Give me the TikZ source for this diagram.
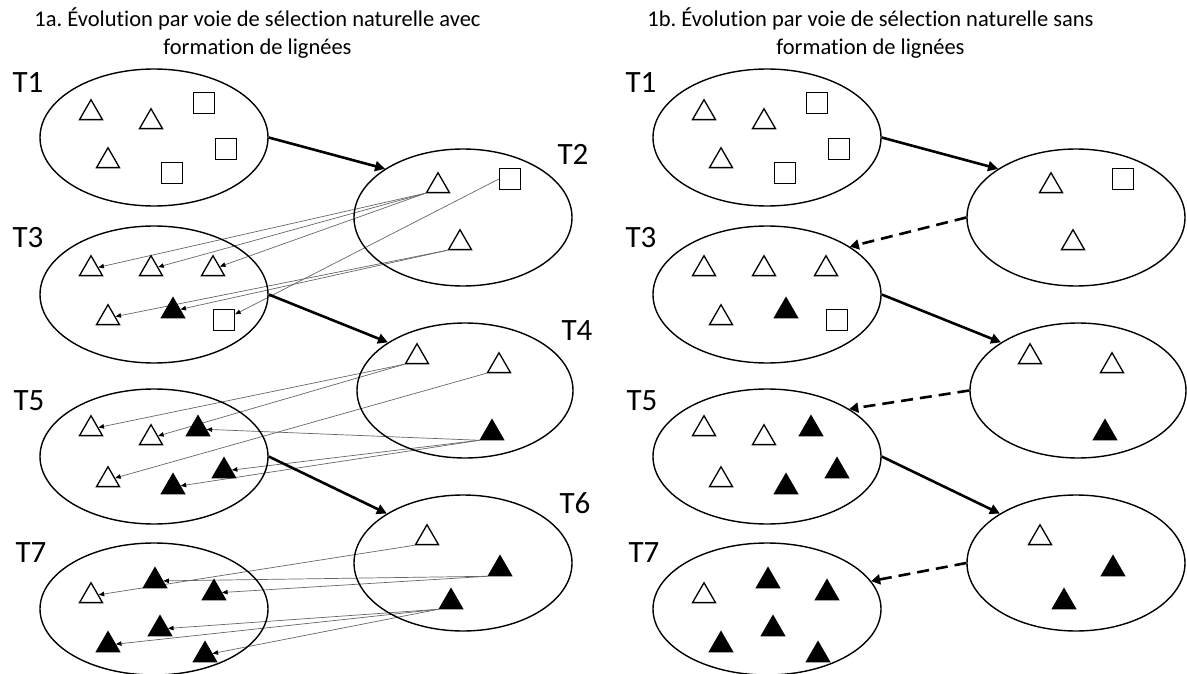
\documentclass[tikz,border=0pt]{standalone}
\usepackage{fontspec}
\setmainfont{Carlito}[Ligatures=NoCommon]
\frenchspacing
\usetikzlibrary{shapes.geometric,arrows.meta}
\pgfdeclarelayer{background}
\pgfsetlayers{background,main}

\tikzset{
  pop/.style={ellipse, draw, line width=1.4pt, inner sep=0pt},
  otri/.style={regular polygon, regular polygon sides=3, minimum size=26.5pt,
               inner sep=0pt, draw, line width=1.3pt, fill=white},
  ftri/.style={otri, fill=black},
  osq/.style={draw, line width=1.3pt, minimum size=21pt, inner sep=0pt, fill=white},
  tlabel/.style={font=\fontsize{31}{31}\selectfont, inner sep=0pt},
  headline/.style={font=\fontsize{22.5}{27}\selectfont, inner sep=0pt, anchor=base},
  growth/.style={line width=2.6pt, -{Triangle[length=10pt,width=10pt]}},
  backflow/.style={line width=2.6pt, dash pattern=on 12pt off 7pt,
                   -{Triangle[length=9pt,width=10pt]}},
  lineage/.style={draw=black!60, line width=0.7pt,
                  -{Triangle[length=5.5pt,width=4.5pt,color=black]}},
}

% Seven populations (T1..T7) of one panel; #1 = name prefix, #2 = horizontal offset
\newcommand{\populations}[2]{%
  \begin{scope}[xshift=#2]
    % populations
    \node[pop, minimum width=228pt, minimum height=137pt] (#1T1) at (154,137.5) {};
    \node[pop, minimum width=218pt, minimum height=137pt] (#1T2) at (463,217.5) {};
    \node[pop, minimum width=228pt, minimum height=137pt] (#1T3) at (154,294.5) {};
    \node[pop, minimum width=216pt, minimum height=135pt] (#1T4) at (465,390.5) {};
    \node[pop, minimum width=228pt, minimum height=135pt] (#1T5) at (154,456.5) {};
    \node[pop, minimum width=218pt, minimum height=136pt] (#1T6) at (463,563) {};
    \node[pop, minimum width=228pt, minimum height=132pt] (#1T7) at (154,609) {};
    % T1
    \node[otri] (#1k1a) at (91,113) {};
    \node[otri] (#1k1b) at (151,122) {};
    \node[otri] (#1k1c) at (108,161) {};
    \node[osq]  (#1k1d) at (204,103) {};
    \node[osq]  (#1k1e) at (226,149) {};
    \node[osq]  (#1k1f) at (172,173) {};
    % T2
    \node[otri] (#1k2a) at (438,186) {};
    \node[osq]  (#1k2b) at (510,179) {};
    \node[otri] (#1k2c) at (460,243) {};
    % T3
    \node[otri] (#1k3a) at (91,269) {};
    \node[otri] (#1k3b) at (151,269) {};
    \node[otri] (#1k3c) at (213,269) {};
    \node[otri] (#1k3d) at (108,318) {};
    \node[ftri] (#1k3e) at (173,311) {};
    \node[osq]  (#1k3f) at (224,320) {};
    % T4
    \node[otri] (#1k4a) at (417,357) {};
    \node[otri] (#1k4b) at (499,366) {};
    \node[ftri] (#1k4c) at (492,433) {};
    % T5
    \node[otri] (#1k5a) at (91,429) {};
    \node[otri] (#1k5b) at (151,438) {};
    \node[ftri] (#1k5c) at (198,429) {};
    \node[otri] (#1k5d) at (108,480) {};
    \node[ftri] (#1k5e) at (224,471) {};
    \node[ftri] (#1k5f) at (173,487) {};
    % T6
    \node[otri] (#1k6a) at (427,538) {};
    \node[ftri] (#1k6b) at (500,569) {};
    \node[ftri] (#1k6c) at (451,602) {};
    % T7
    \node[otri] (#1k7a) at (91,596) {};
    \node[ftri] (#1k7b) at (155,581) {};
    \node[ftri] (#1k7c) at (214,593) {};
    \node[ftri] (#1k7d) at (160,629) {};
    \node[ftri] (#1k7e) at (108,645) {};
    \node[ftri] (#1k7f) at (205,655) {};
    % time labels on the left column
    \node[tlabel] (#1L1) at (28,83) {T1};
    \node[tlabel] (#1L3) at (28,238) {T3};
    \node[tlabel] (#1L5) at (29,401) {T5};
    \node[tlabel] (#1L7) at (31,553) {T7};
    % generation steps
    \draw[growth] (#1T1.east) -- (#1T2.148);
    \draw[growth] (#1T3.east) -- (#1T4.148);
    \draw[growth] (#1T5.east) -- (#1T6.147);
  \end{scope}}

\begin{document}
\begin{tikzpicture}[x=1pt,y=-1pt]
  \useasboundingbox (0,0) rectangle (1187,674);

  % panel titles
  \node[headline] (ha1) at (257.5,27) {1a. Évolution par voie de sélection naturelle avec};
  \node[headline] (ha2) at (257.5,55) {formation de lignées};
  \node[headline] (hb1) at (870.5,27) {1b. Évolution par voie de sélection naturelle sans};
  \node[headline] (hb2) at (870.5,55) {formation de lignées};

  % panel 1a
  \populations{a}{0pt}
  \node[tlabel] (aL2) at (573,154) {T2};
  \node[tlabel] (aL4) at (577,331) {T4};
  \node[tlabel] (aL6) at (575,503) {T6};

  % lineages from each surviving individual to its descendants
  \begin{pgfonlayer}{background}
    \draw[lineage] (ak2a.corner 2) -- (ak3a);
    \draw[lineage] (ak2a.corner 2) -- (ak3b);
    \draw[lineage] (ak2a.corner 2) -- (ak3c);
    \draw[lineage] (ak2c.corner 2) -- (ak3d);
    \draw[lineage] (ak2c.corner 2) -- (ak3e);
    \draw[lineage] (ak2b.west) -- (ak3f);

    \draw[lineage] (ak4a.corner 2) -- (ak5a);
    \draw[lineage] (ak4a.corner 2) -- (ak5b);
    \draw[lineage] (ak4b.corner 2) -- (ak5d);
    \draw[lineage] (ak4c.corner 2) -- (ak5c);
    \draw[lineage] (ak4c.corner 2) -- (ak5e);
    \draw[lineage] (ak4c.corner 2) -- (ak5f);

    \draw[lineage] (ak6a.corner 2) -- (ak7a);
    \draw[lineage] (ak6b.corner 2) -- (ak7b);
    \draw[lineage] (ak6b.corner 2) -- (ak7c);
    \draw[lineage] (ak6c.corner 2) -- (ak7d);
    \draw[lineage] (ak6c.corner 2) -- (ak7e);
    \draw[lineage] (ak6c.corner 2) -- (ak7f);
  \end{pgfonlayer}

  % panel 1b
  \populations{b}{613pt}
  \draw[backflow] (bT2.west) -- (bT3.30);
  \draw[backflow] (bT4.west) -- (bT5.30);
  \draw[backflow] (bT6.west) -- (bT7.15);
\end{tikzpicture}
\end{document}
